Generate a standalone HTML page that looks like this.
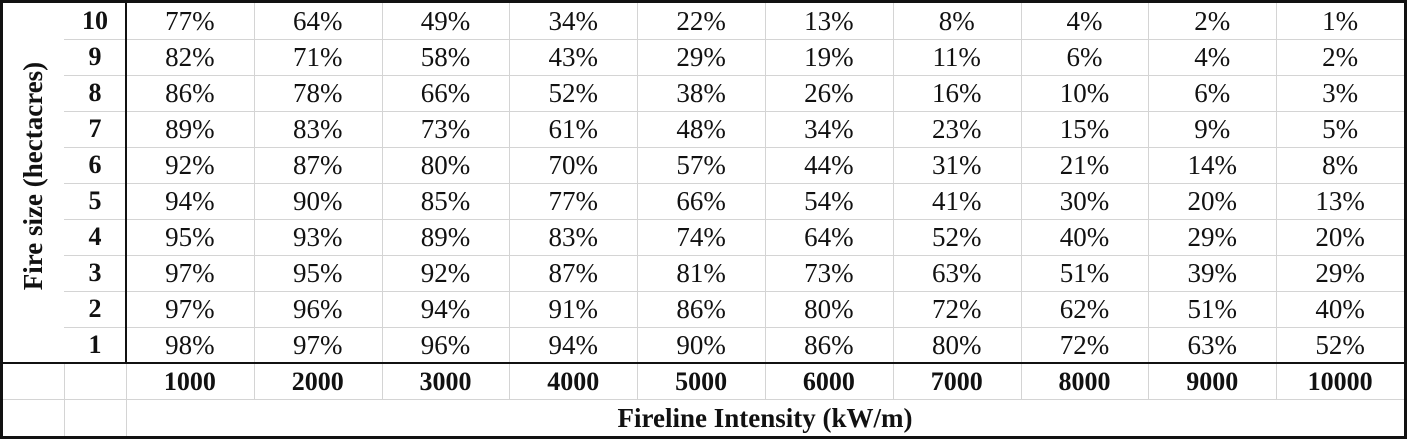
<!DOCTYPE html>
<html><head><meta charset="utf-8"><style>
html,body{margin:0;padding:0;background:#fff;}
#t{position:relative;width:1407px;height:439px;overflow:hidden;font-family:"Liberation Serif",serif;color:#111;}
.c{position:absolute;display:flex;align-items:center;justify-content:center;font-size:27px;white-space:nowrap;}
.b{font-weight:bold;font-size:26px;}
.tt{font-weight:bold;font-size:27px;}
.l{position:absolute;background:#d4d4d4;}
.k{position:absolute;background:#111;}
</style></head><body>
<div id="t"></div>
<script>
const rowLabels=[10,9,8,7,6,5,4,3,2,1];
const colLabels=[1000,2000,3000,4000,5000,6000,7000,8000,9000,10000];
const r10=[77,64,49,34,22,13,8,4,2,1];
const r9=[82,71,58,43,29,19,11,6,4,2];
const r8=[86,78,66,52,38,26,16,10,6,3];
const r7=[89,83,73,61,48,34,23,15,9,5];
const r6=[92,87,80,70,57,44,31,21,14,8];
const r5=[94,90,85,77,66,54,41,30,20,13];
const r4=[95,93,89,83,74,64,52,40,29,20];
const r3=[97,95,92,87,81,73,63,51,39,29];
const r2=[97,96,94,91,86,80,72,62,51,40];
const r1=[98,97,96,94,90,86,80,72,63,52];
const values=[r10,r9,r8,r7,r6,r5,r4,r3,r2,r1];
const T=document.getElementById('t');
const X0=126,CW=127.8,Y0=3,RH=36;
function add(cls,x,y,w,h,txt){const d=document.createElement('div');d.className=cls;d.style.left=x+'px';d.style.top=y+'px';d.style.width=w+'px';d.style.height=h+'px';if(txt!==undefined)d.textContent=txt;T.appendChild(d);return d;}
for(let i=1;i<10;i++){const e=add('l',64,Y0+i*RH,1343,1);}
{const e=add('l',3,399,1404,1);}
for(let j=1;j<10;j++){const e=add('l',X0+j*CW,3,1,396);}
{const e=add('l',64,363,1,73);}
{const e=add('l',126,363,1,73);}
{const e=add('k',125,3,2,361);}
{const e=add('k',3,362,1404,2);}
{const e=add('k',0,0,1407,3);}
{const e=add('k',0,436,1407,3);}
{const e=add('k',0,0,3,439);}
{const e=add('k',1404,0,3,439);}
rowLabels.forEach((r,i)=>{
  const e=add('c b',64,Y0+i*RH,62,RH,String(r));
  
  
  values[i].forEach((v,j)=>{
    const c=add('c',X0+j*CW,Y0+i*RH,CW,RH,v+'%');
    
    
  });
});
colLabels.forEach((v,j)=>{
  const e=add('c b',X0+j*CW,364,CW,35,String(v));
  
  
});
const xt=add('c tt',126,400,1278,36,'Fireline Intensity (kW/m)');


const yt=add('c tt',33-150,176-18,300,36,'Fire size (hectacres)');
yt.style.transform='rotate(-90deg)';


</script>
</body></html>
